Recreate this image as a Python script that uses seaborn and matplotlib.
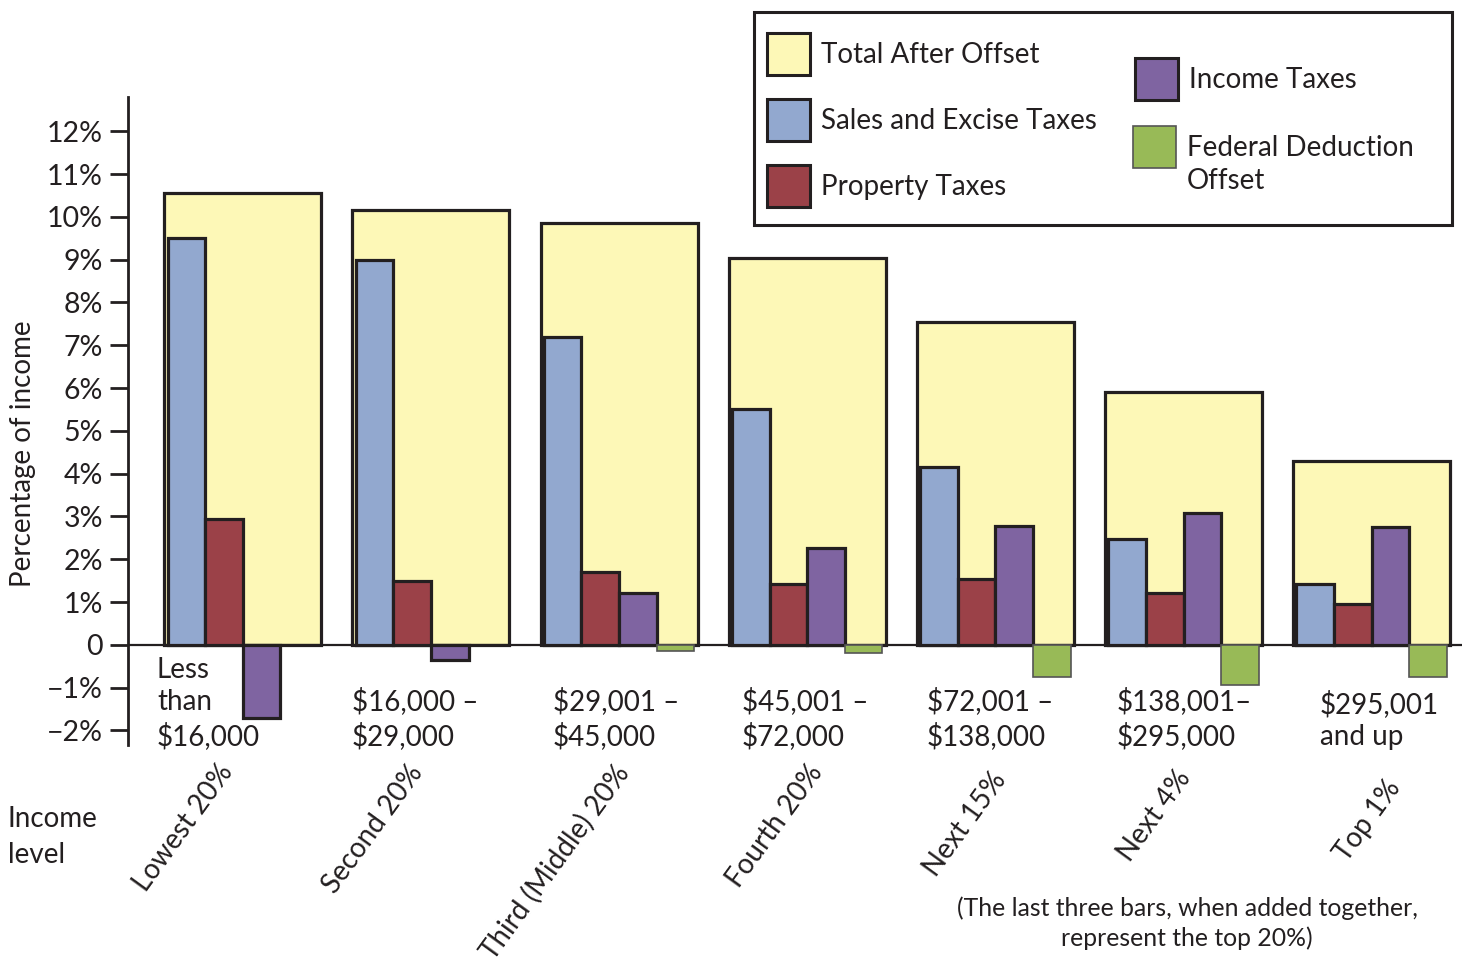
import matplotlib
matplotlib.use("Agg")
import matplotlib.pyplot as plt
from matplotlib.patches import Rectangle
import seaborn as sns
import pandas as pd

# ---- data (percentage of income) ----
groups = ["Lowest 20%", "Second 20%", "Third (Middle) 20%", "Fourth 20%",
          "Next 15%", "Next 4%", "Top 1%"]
income_ranges = ["Less\nthan\n$16,000", "$16,000 \u2013\n$29,000", "$29,001 \u2013\n$45,000",
                 "$45,001 \u2013\n$72,000", "$72,001 \u2013\n$138,000", "$138,001\u2013\n$295,000",
                 "$295,001\nand up"]
total_after_offset = [10.55, 10.15, 9.85, 9.05, 7.55, 5.9, 4.3]
sales_excise = [9.5, 9.0, 7.2, 5.5, 4.15, 2.48, 1.43]
property_taxes = [2.95, 1.5, 1.7, 1.43, 1.55, 1.2, 0.95]
income_taxes = [-1.72, -0.35, 1.22, 2.27, 2.78, 3.08, 2.76]
federal_offset = [None, None, -0.15, -0.2, -0.75, -0.93, -0.75]

kinds = ["Sales and Excise Taxes", "Property Taxes", "Income Taxes", "Federal Deduction Offset"]
y_ticks = list(range(-2, 13))

# ---- styling ----
INK = "#231F20"
YELLOW = "#FDF8B7"
palette = {"Sales and Excise Taxes": "#92A8CF", "Property Taxes": "#9B4148",
           "Income Taxes": "#7F64A1", "Federal Deduction Offset": "#98BA57"}
FONT = "Lato"
FS = 20

sns.set_theme(style="white")
plt.rcParams["font.family"] = [FONT, "DejaVu Sans"]
plt.rcParams["text.color"] = INK

rows = []
for g, s, p, it, fo in zip(groups, sales_excise, property_taxes, income_taxes, federal_offset):
    for k, v in zip(kinds, [s, p, it, fo]):
        if v is not None:
            rows.append({"group": g, "kind": k, "value": v})
long_df = pd.DataFrame(rows)
tot_df = pd.DataFrame({"group": groups, "value": total_after_offset})

W, H = 1465, 969
fig = plt.figure(figsize=(W / 100, H / 100), dpi=100)
ax = fig.add_axes([128 / W, 1 - 745 / H, (1462 - 128) / W, (745 - 97) / H])

sns.barplot(data=tot_df, x="group", y="value", order=groups, color=YELLOW,
            width=0.835, edgecolor=INK, linewidth=2.3, saturation=1, ax=ax, zorder=2)
sns.barplot(data=long_df, x="group", y="value", hue="kind", order=groups,
            hue_order=kinds, palette=palette, width=0.8, edgecolor=INK,
            linewidth=2.3, saturation=1, legend=False, ax=ax, zorder=3)

# the federal offset bars carry a lighter outline
for bar in ax.containers[-1]:
    bar.set_edgecolor("#555555")
    bar.set_linewidth(1.2)

ax.axhline(0, color=INK, lw=1.6, zorder=2.5)

ax.set_xlim(-0.61, 6.48)
ax.set_ylim(-2.34, 12.8)
for side in ["top", "right", "bottom"]:
    ax.spines[side].set_visible(False)
ax.spines["left"].set_color(INK)
ax.spines["left"].set_linewidth(2.0)

ax.set_yticks(y_ticks)
ax.set_yticklabels([("0" if t == 0 else f"{t}%".replace("-", "\u2212")) for t in y_ticks],
                   fontsize=20.5, color=INK)
ax.tick_params(axis="y", left=True, length=13, width=2, color=INK, pad=5)
ax.set_xticks([])
ax.set_xlabel("")
ax.set_ylabel("Percentage of income", fontsize=FS, color=INK)
ax.yaxis.set_label_coords(-0.069, 0.45)

# income brackets under each group
range_dx = [-0.456, -0.419, -0.351, -0.347, -0.363, -0.354, -0.275]
for i, (txt, dx) in enumerate(zip(income_ranges, range_dx)):
    ax.text(i + dx, -2.46, txt, ha="left", va="bottom", fontsize=FS,
            color=INK, linespacing=1.3, clip_on=False)

# rotated group names
name_dx = [-0.137, -0.127, -0.033, -0.001, -0.029, -0.046, 0.071]
name_top = [760, 760, 760, 760, 768, 766, 776]
for i, (g, dx, top) in enumerate(zip(groups, name_dx, name_top)):
    yd = (645 - top) / 42.8
    ax.text(i + dx, yd, g, rotation=54, rotation_mode="anchor", ha="right", va="top",
            fontsize=FS, color=INK, clip_on=False)

fig.text(8 / W, 1 - 837 / H, "Income\nlevel", ha="left", va="center", fontsize=FS,
         color=INK, linespacing=1.5)
fig.text(1187 / W, 1 - 923 / H,
         "(The last three bars, when added together,\nrepresent the top 20%)",
         ha="center", va="center", fontsize=17.8, color=INK, linespacing=1.35)

# legend box
fig.add_artist(Rectangle((754 / W, 1 - 225 / H), 698 / W, 213 / H, transform=fig.transFigure,
                         fill=False, edgecolor=INK, linewidth=2.2))
legend_items = [
    ("Total After Offset", YELLOW, 767, 54, INK, 2.2),
    ("Sales and Excise Taxes", palette["Sales and Excise Taxes"], 767, 120, INK, 2.2),
    ("Property Taxes", palette["Property Taxes"], 767, 186, INK, 2.2),
    ("Income Taxes", palette["Income Taxes"], 1135, 79, INK, 2.2),
    ("Federal Deduction\nOffset", palette["Federal Deduction Offset"], 1133, 147, "#555555", 1.2),
]
for label, col, x0, yc, ec, lw in legend_items:
    fig.add_artist(Rectangle((x0 / W, 1 - (yc + 21) / H), 43 / W, 42 / H,
                             transform=fig.transFigure, facecolor=col, edgecolor=ec, linewidth=lw))
    if "\n" in label:
        fig.text((x0 + 54) / W, 1 - (yc - 12) / H, label, ha="left", va="top",
                 fontsize=FS, color=INK, linespacing=1.35)
    else:
        fig.text((x0 + 54) / W, 1 - (yc + 1) / H, label, ha="left", va="center",
                 fontsize=FS, color=INK)

fig.savefig("out.png", dpi=100, facecolor="white")
